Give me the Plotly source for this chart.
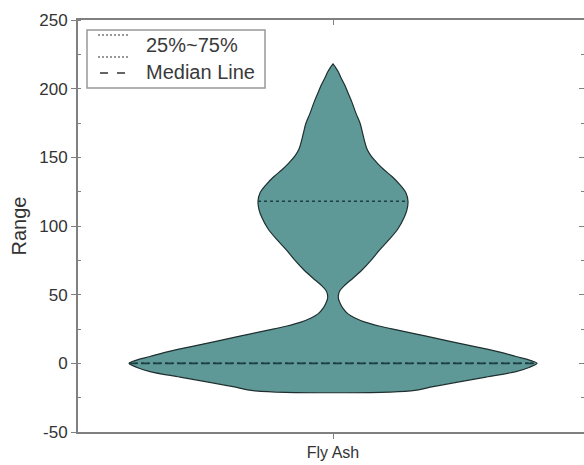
import numpy as np
import plotly.graph_objects as go

# Violin profile for "Fly Ash": value levels and half-width of the density at each level
category = "Fly Ash"
levels = [-20, -17, -14, -10, -6, -3, 0, 2, 5, 8, 12, 16, 20, 24, 27, 30, 33, 36, 40,
          44, 47, 50, 53, 57, 62, 68, 75, 82, 90, 98, 106, 112, 118, 124, 130, 136,
          141, 146, 151, 156, 162, 168, 175, 182, 190, 197, 203, 208, 212, 215, 218]
half_width = [78, 100, 122, 153, 183, 196, 204, 198, 183, 168, 143, 117, 92, 66, 47, 32, 22, 15, 10,
              7, 5.5, 5.5, 7, 12, 20, 29, 38, 46, 56, 65, 71, 74, 75, 73, 67, 59,
              51, 44, 38, 34, 31.5, 29.5, 27, 23, 19, 15, 11.5, 8, 5.5, 3, 0]

# Summary statistics
q1 = 0
median = 0
q3 = 118

y_ticks = [-50, 0, 50, 100, 150, 200, 250]
y_tick_text = [str(v) for v in y_ticks]

FILL = "#5e9998"
EDGE = "#1f2f2f"
AXIS = "#808080"
TEXT = "#333333"
FONT = "Liberation Sans, Arial, sans-serif"

lv = np.array(levels, dtype=float)
hw = np.array(half_width, dtype=float)

# closed outline: right side upward, left side downward
xs = np.concatenate([hw, -hw[::-1], [hw[0]]])
ys = np.concatenate([lv, lv[::-1], [lv[0]]])


def width_at(v):
    return float(np.interp(v, lv, hw))


fig = go.Figure()

fig.add_trace(go.Scatter(
    x=xs, y=ys, mode="lines", fill="toself", fillcolor=FILL,
    line=dict(color=EDGE, width=1.2, shape="spline", smoothing=1.0),
    hoverinfo="skip", showlegend=False,
))

# quartile lines (dotted)
for q in (q1, q3):
    w = width_at(q)
    fig.add_trace(go.Scatter(
        x=[-w, w], y=[q, q], mode="lines",
        line=dict(color="#1d3e3e", width=1.5, dash="3px,3px"),
        hoverinfo="skip", showlegend=False,
    ))

# median line (dashed), drawn on the mirrored axes so they are rendered
w = width_at(median)
fig.add_trace(go.Scatter(
    x=[-w, w], y=[median, median], mode="lines", xaxis="x2", yaxis="y2",
    line=dict(color="#1d3e3e", width=1.8, dash="8px,4px"),
    hoverinfo="skip", showlegend=False,
))

x_range = [-255, 251]
y_range = [-50, 250]

fig.update_layout(
    width=584, height=465,
    margin=dict(l=78, r=0, t=20, b=33),
    paper_bgcolor="white", plot_bgcolor="white",
    font=dict(family=FONT, color=TEXT),
    showlegend=False,
    xaxis=dict(
        range=x_range, tickvals=[0], ticktext=[category],
        ticks="outside", ticklen=5, tickwidth=1, tickcolor=AXIS,
        showline=True, linecolor=AXIS, linewidth=2,
        showgrid=False, zeroline=False,
        tickfont=dict(size=16, color=TEXT, family=FONT),
    ),
    xaxis2=dict(
        range=x_range, overlaying="x", side="top", anchor="y",
        tickvals=[0], ticks="inside", ticklen=5, tickwidth=1, tickcolor=AXIS,
        showticklabels=False, showline=True, linecolor=AXIS, linewidth=2,
        showgrid=False, zeroline=False,
    ),
    yaxis=dict(
        range=y_range, tickvals=y_ticks, ticktext=y_tick_text,
        ticks="outside", ticklen=5, tickwidth=1, tickcolor=AXIS,
        minor=dict(dtick=25, tick0=0, ticks="inside", ticklen=3, tickcolor=AXIS, showgrid=False),
        showline=True, linecolor=AXIS, linewidth=2,
        showgrid=False, zeroline=False,
        tickfont=dict(size=17, color=TEXT, family=FONT),
        title=dict(text="Range", font=dict(size=20, color=TEXT, family=FONT), standoff=7),
    ),
    yaxis2=dict(
        range=y_range, overlaying="y", side="right", anchor="x",
        tickvals=y_ticks, ticks="inside", ticklen=5, tickwidth=1, tickcolor=AXIS,
        minor=dict(dtick=25, tick0=0, ticks="inside", ticklen=3, tickcolor=AXIS, showgrid=False),
        showticklabels=False, showline=False,
        showgrid=False, zeroline=False,
    ),
)

# legend box drawn in paper coordinates
shapes = [
    dict(type="rect", xref="paper", yref="paper", x0=0.0178, x1=0.3696, y0=0.835, y1=0.9757,
         line=dict(color="#999999", width=1.5), fillcolor="rgba(0,0,0,0)"),
    dict(type="line", xref="paper", yref="paper", x0=0.0395, x1=0.1028, y0=0.9636, y1=0.9636,
         line=dict(color="#333333", width=1.2, dash="2px,2px")),
    dict(type="line", xref="paper", yref="paper", x0=0.0395, x1=0.1028, y0=0.9102, y1=0.9102,
         line=dict(color="#333333", width=1.2, dash="2px,2px")),
    dict(type="line", xref="paper", yref="paper", x0=0.0435, x1=0.0929, y0=0.8714, y1=0.8714,
         line=dict(color="#333333", width=1.5, dash="8px,9px")),
]
fig.update_layout(shapes=shapes)

for label, yp in (("25%~75%", 0.9393), ("Median Line", 0.8738)):
    fig.add_annotation(
        x=0.1304, y=yp, xref="paper", yref="paper", text=label, showarrow=False,
        xanchor="left", yanchor="middle",
        font=dict(size=20, color="#3a3a3a", family=FONT),
    )

fig.write_html("out.html")
